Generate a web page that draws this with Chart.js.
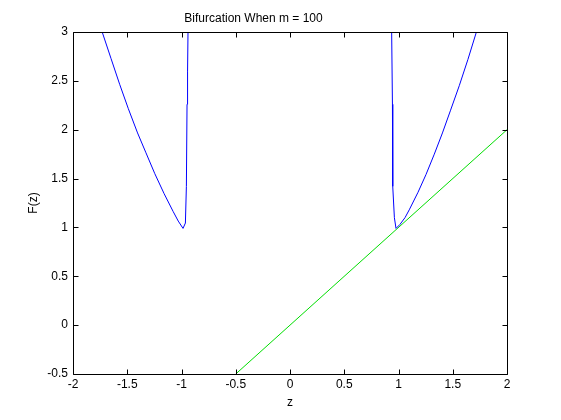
<!DOCTYPE html>
<html>
<head>
<meta charset="utf-8">
<script src="https://cdn.jsdelivr.net/npm/chart.js@4/dist/chart.umd.min.js"></script>
<style>
  body { margin: 0; background: #fff; }
</style>
</head>
<body>
<canvas id="myChart" width="561" height="420"></canvas>
<script>
// valores
var zLeft  = [-1.731, -1.65, -1.57, -1.49, -1.405, -1.33, -1.246, -1.16, -1.078, -1.03, -0.986, -0.964, -0.955, -0.949, -0.944, -0.940];
var fLeft  = [3.0, 2.73, 2.465, 2.215, 1.967, 1.77, 1.55, 1.345, 1.165, 1.065, 0.99, 1.045, 1.42, 2.26, 2.6, 3.0];
var zRight = [0.937, 0.944, 0.947, 0.962, 0.977, 1.013, 1.06, 1.099, 1.18, 1.253, 1.33, 1.405, 1.48, 1.56, 1.64, 1.718];
var fRight = [3.0, 2.26, 1.42, 1.1, 0.99, 1.03, 1.1, 1.18, 1.36, 1.54, 1.75, 1.967, 2.2, 2.45, 2.72, 3.0];
var zDiag  = [-0.5, 2];
var fDiag  = [-0.5, 2];
var xTicks = [-2, -1.5, -1, -0.5, 0, 0.5, 1, 1.5, 2];
var yTicks = [-0.5, 0, 0.5, 1, 1.5, 2, 2.5, 3];

function puntos(xs, ys) {
    var out = [];
    for (var i = 0; i < xs.length; i++) {
        out.push({x: xs[i], y: ys[i]});
    }
    return out;
}

// marco y marcas hacia adentro estilo matlab
var marco = {
    id: 'marco',
    afterDraw: function(chart) {
        var c = chart.ctx;
        var a = chart.chartArea;
        var sx = chart.scales.x;
        var sy = chart.scales.y;
        var L = Math.round(a.left) + 0.5, R = Math.round(a.right) + 0.5;
        var T = Math.round(a.top) + 0.5, B = Math.round(a.bottom) + 0.5;
        c.save();
        c.strokeStyle = '#000';
        c.lineWidth = 1;
        c.beginPath();
        c.rect(L, T, R - L, B - T);
        xTicks.forEach(function(v) {
            var px = Math.round(sx.getPixelForValue(v)) + 0.5;
            c.moveTo(px, B); c.lineTo(px, B - 5);
            c.moveTo(px, T); c.lineTo(px, T + 5);
        });
        yTicks.forEach(function(v) {
            var py = Math.round(sy.getPixelForValue(v)) + 0.5;
            c.moveTo(L, py); c.lineTo(L + 5, py);
            c.moveTo(R, py); c.lineTo(R - 5, py);
        });
        c.stroke();
        c.restore();
    }
};

var fuente = {family: '"Liberation Sans", Arial, sans-serif', size: 12};

var ctx = document.getElementById('myChart').getContext('2d');
var myChart = new Chart(ctx, {
    type: 'scatter',
    data: {
        datasets: [
            {data: puntos(zLeft, fLeft), borderColor: '#0000ff', showLine: true, pointRadius: 0, borderWidth: 1, tension: 0},
            {data: puntos(zRight, fRight), borderColor: '#0000ff', showLine: true, pointRadius: 0, borderWidth: 1, tension: 0},
            {data: puntos(zDiag, fDiag), borderColor: '#00dd00', showLine: true, pointRadius: 0, borderWidth: 1, tension: 0}
        ]
    },
    plugins: [marco],
    options: {
        responsive: false,
        animation: false,
        devicePixelRatio: 1,
        layout: {padding: {left: 0, right: 54, top: 0, bottom: 0}},
        plugins: {
            legend: {display: false},
            tooltip: {enabled: false},
            title: {
                display: true,
                text: 'Bifurcation When m = 100',
                color: '#000',
                font: {family: fuente.family, size: 12, weight: 'normal'},
                padding: {top: 11, bottom: 6.6}
            }
        },
        scales: {
            x: {
                type: 'linear',
                min: -2, max: 2,
                afterFit: function(s) { s.height = 46; },
                afterBuildTicks: function(s) { s.ticks = xTicks.map(function(v) { return {value: v}; }); },
                grid: {display: false, drawTicks: false},
                border: {display: false},
                ticks: {color: '#000', font: fuente, padding: 3, maxRotation: 0, callback: function(v) { return String(v); }},
                title: {display: true, text: 'z', color: '#000', font: fuente, padding: {top: 0, bottom: 10}}
            },
            y: {
                type: 'linear',
                min: -0.5, max: 3,
                afterFit: function(s) { s.width = 73; },
                afterBuildTicks: function(s) { s.ticks = yTicks.map(function(v) { return {value: v}; }); },
                grid: {display: false, drawTicks: false},
                border: {display: false},
                ticks: {color: '#000', font: fuente, padding: 5, callback: function(v) { return String(v); }},
                title: {display: true, text: 'F(z)', color: '#000', font: fuente, padding: {top: 26, bottom: 0}}
            }
        }
    }
});
</script>
</body>
</html>
